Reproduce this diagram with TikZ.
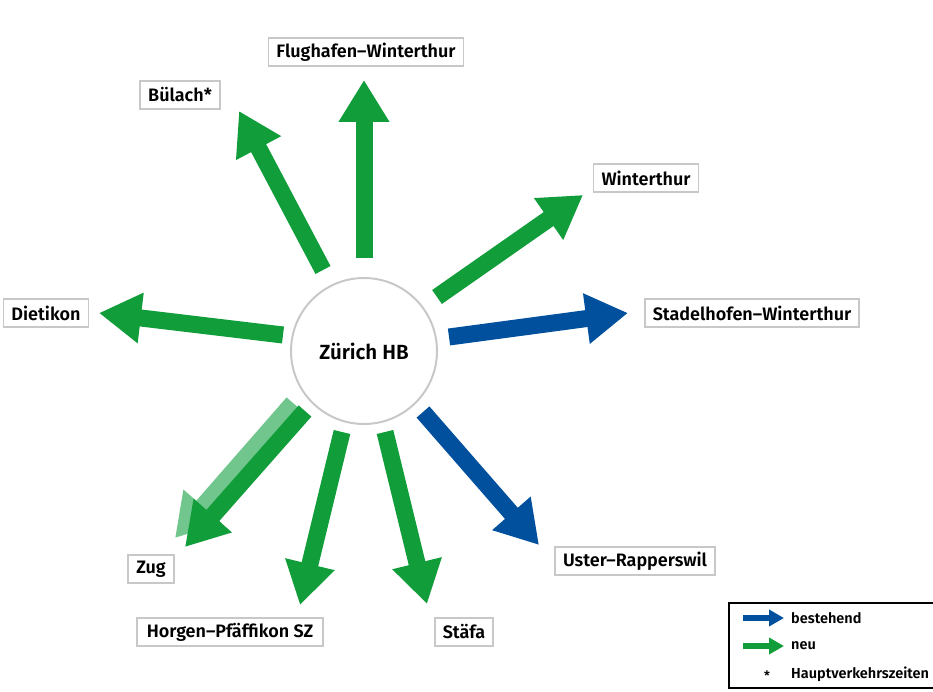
\documentclass[tikz,border=0pt]{standalone}
\usepackage{fontspec}
\setmainfont{Fira Sans}[BoldFont={Fira Sans SemiBold}]
\usepackage{tikz}
\usetikzlibrary{arrows.meta}
\definecolor{neugreen}{RGB}{16,157,58}
\definecolor{neulight}{RGB}{112,198,140}
\definecolor{bestblue}{RGB}{0,80,158}
\definecolor{boxgrey}{RGB}{200,200,200}
\begin{document}
\begin{tikzpicture}[x=1pt, y=-1pt,
	station/.style={draw=boxgrey, line width=1.6pt, fill=white, inner xsep=8pt, inner ysep=0pt,
		minimum height=28pt, font=\fontsize{18}{18}\selectfont\bfseries},
	hub/.style={circle, draw=boxgrey, line width=2pt, minimum size=146pt,
		font=\fontsize{20.5}{20.5}\selectfont\bfseries},
	bigarrow/.style={line width=17pt, -{Triangle[width=48pt,length=42pt]}},
	neu/.style={bigarrow, neugreen},
	besteh/.style={bigarrow, bestblue},
	legarrow/.style={line width=6pt, -{Triangle[width=16pt,length=15pt]}},
	legtext/.style={anchor=west, inner xsep=2pt, font=\fontsize{14.5}{14.5}\selectfont\bfseries}]
 \useasboundingbox (0,0) rectangle (933,692);
 \clip (0,0) rectangle (933,692);
 \node[hub] (hb) at (364,351) {Zürich HB};
 \node[station] (flug) at (366,52) {Flughafen--Winterthur};
 \node[station] (bulach) at (180,95) {Bülach*};
 \node[station] (winti) at (646,178) {Winterthur};
 \node[station] (stadel) at (752,313) {Stadelhofen--Winterthur};
 \node[station] (dieti) at (46,313) {Dietikon};
 \node[station] (zug) at (151,569) {Zug};
 \node[station, inner xsep=10pt] (horgen) at (230,632) {Horgen--Pfäffikon SZ};
 \node[station] (staefa) at (464,632) {Stäfa};
 \node[station] (uster) at (635,561) {Uster--Rapperswil};

 \coordinate (flugS) at (364,258);   \coordinate (flugE) at (364,80);
 \coordinate (bulachS) at (323,270); \coordinate (bulachE) at (239,111);
 \coordinate (wintiS) at (437,297);  \coordinate (wintiE) at (583,195);
 \coordinate (stadelS) at (449,337); \coordinate (stadelE) at (628,313);
 \coordinate (dietiS) at (283,335);  \coordinate (dietiE) at (99,313);
 \coordinate (zugS) at (305,411);    \coordinate (zugE) at (185,547);
 \coordinate (zugS2) at (293,403);   \coordinate (zugE2) at (175,538);
 \coordinate (horgenS) at (342,432); \coordinate (horgenE) at (300,605);
 \coordinate (staefaS) at (385,432); \coordinate (staefaE) at (427,604);
 \coordinate (usterS) at (423,412);  \coordinate (usterE) at (539,545);

 \draw[neu] (flugS) -- (flugE);
 \draw[neu] (bulachS) -- (bulachE);
 \draw[neu] (wintiS) -- (wintiE);
 \draw[besteh] (stadelS) -- (stadelE);
 \draw[neu] (dietiS) -- (dietiE);
 \draw[bigarrow, neulight] (zugS2) -- (zugE2);
 \draw[neu] (zugS) -- (zugE);
 \draw[neu] (horgenS) -- (horgenE);
 \draw[neu] (staefaS) -- (staefaE);
 \draw[besteh] (usterS) -- (usterE);

 \draw[line width=1.6pt] (729,603) rectangle (945,688);
 \coordinate (legbS) at (743,618); \coordinate (legbE) at (784,618);
 \coordinate (leggS) at (743,646); \coordinate (leggE) at (784,646);
 \draw[legarrow, bestblue] (legbS) -- (legbE);
 \draw[legarrow, neugreen] (leggS) -- (leggE);
 \node[legtext] (legb) at (789,618) {bestehend};
 \node[legtext] (legg) at (789,646) {neu};
 \node[font=\fontsize{13}{13}\selectfont\bfseries] (legstar) at (767,676) {*};
 \node[legtext] (legh) at (789,674) {Hauptverkehrszeiten};
\end{tikzpicture}
\end{document}
